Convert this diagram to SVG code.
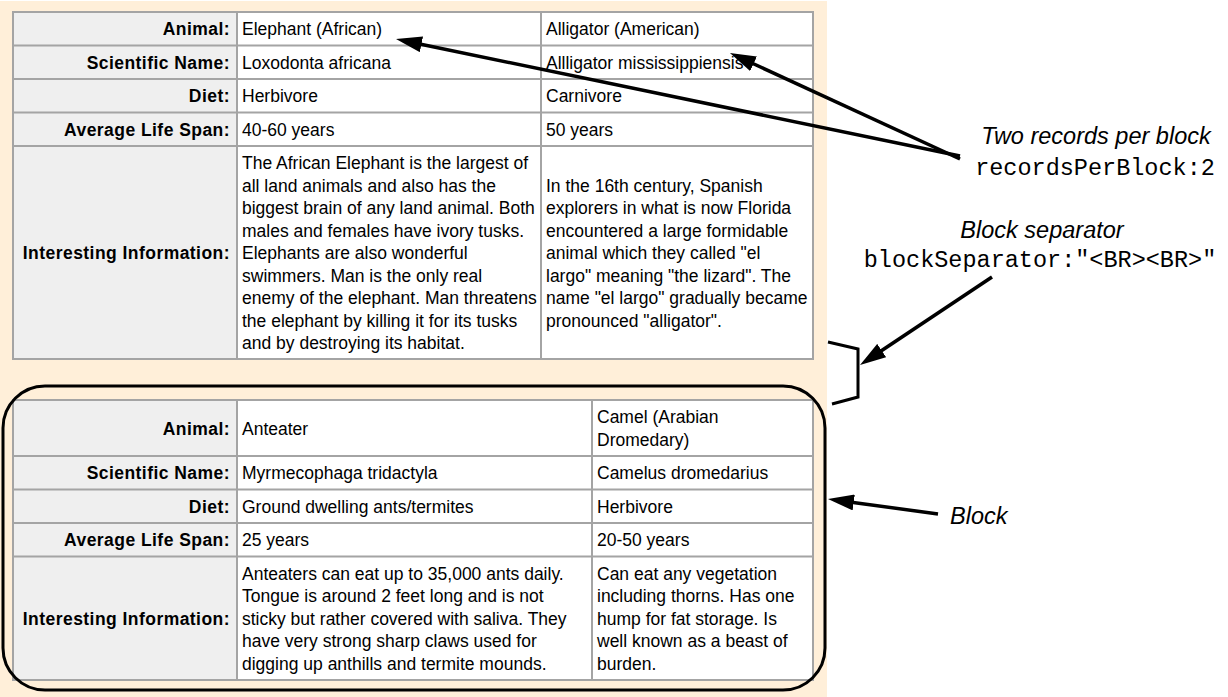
<svg xmlns="http://www.w3.org/2000/svg" width="1228" height="697" viewBox="0 0 1228 697">
  <style>
    .panel { fill: #FFEFD9; }
    .lbl-bg { fill: #EFEFEF; }
    .cell-bg { fill: #FFFFFF; }
    .grid { stroke: #A4A4A4; stroke-width: 2; fill: none; }
    .lbl { font-family: "Liberation Sans", Arial, sans-serif; font-size: 17.5px; font-weight: bold; text-anchor: end; letter-spacing: 0.45px; fill: #000; }
    .val { font-family: "Liberation Sans", Arial, sans-serif; font-size: 17.5px; fill: #000; }
    .note { font-family: "Liberation Sans", Arial, sans-serif; font-size: 23.5px; font-style: italic; fill: #000; }
    .code { font-family: "Liberation Mono", "Courier New", monospace; font-size: 23.5px; fill: #000; }
    .conn { stroke: #000; stroke-width: 3.5; fill: none; }
    .block { stroke: #000; stroke-width: 3; fill: none; }
  </style>
  <defs>
    <marker id="head" markerUnits="userSpaceOnUse" markerWidth="26" markerHeight="16" refX="8" refY="8" orient="auto">
      <path d="M0,0 L26,8 L0,16 Z" fill="#000"/>
    </marker>
  </defs>

  <rect width="1228" height="697" fill="#FFFFFF"/>
  <rect class="panel" x="0" y="1" width="827" height="696"/>

  <!-- first block: elephant / alligator -->
  <g id="block-1">
    <rect class="lbl-bg" x="13" y="12" width="224" height="347"/>
    <rect class="cell-bg" x="237" y="12" width="576" height="347"/>
    <g class="grid">
      <rect x="13" y="12" width="800" height="347"/>
      <line x1="237" y1="12" x2="237" y2="359"/>
      <line x1="541" y1="12" x2="541" y2="359"/>
      <line x1="13" y1="45.5" x2="813" y2="45.5"/>
      <line x1="13" y1="79" x2="813" y2="79"/>
      <line x1="13" y1="112.5" x2="813" y2="112.5"/>
      <line x1="13" y1="146" x2="813" y2="146"/>
    </g>
    <text class="lbl" x="230" y="35">Animal:</text>
    <text class="lbl" x="230" y="68.5">Scientific Name:</text>
    <text class="lbl" x="230" y="102">Diet:</text>
    <text class="lbl" x="230" y="135.5">Average Life Span:</text>
    <text class="lbl" x="230" y="259">Interesting Information:</text>

    <text class="val" x="242" y="35">Elephant (African)</text>
    <text class="val" x="242" y="68.5">Loxodonta africana</text>
    <text class="val" x="242" y="102">Herbivore</text>
    <text class="val" x="242" y="135.5">40-60 years</text>
    <text class="val" x="242" y="169">
      <tspan x="242" y="169">The African Elephant is the largest of</tspan>
      <tspan x="242" y="191.5">all land animals and also has the</tspan>
      <tspan x="242" y="214">biggest brain of any land animal. Both</tspan>
      <tspan x="242" y="236.5">males and females have ivory tusks.</tspan>
      <tspan x="242" y="259">Elephants are also wonderful</tspan>
      <tspan x="242" y="281.5">swimmers. Man is the only real</tspan>
      <tspan x="242" y="304">enemy of the elephant. Man threatens</tspan>
      <tspan x="242" y="326.5">the elephant by killing it for its tusks</tspan>
      <tspan x="242" y="349">and by destroying its habitat.</tspan>
    </text>

    <text class="val" x="546" y="35">Alligator (American)</text>
    <text class="val" x="546" y="68.5">Allligator mississippiensis</text>
    <text class="val" x="546" y="102">Carnivore</text>
    <text class="val" x="546" y="135.5">50 years</text>
    <text class="val" x="546" y="191.5">
      <tspan x="546" y="191.5">In the 16th century, Spanish</tspan>
      <tspan x="546" y="214">explorers in what is now Florida</tspan>
      <tspan x="546" y="236.5">encountered a large formidable</tspan>
      <tspan x="546" y="259">animal which they called "el</tspan>
      <tspan x="546" y="281.5">largo" meaning "the lizard". The</tspan>
      <tspan x="546" y="304">name "el largo" gradually became</tspan>
      <tspan x="546" y="326.5">pronounced "alligator".</tspan>
    </text>
  </g>

  <!-- second block: anteater / camel, outlined as one block -->
  <g id="block-2">
    <rect class="lbl-bg" x="13" y="400" width="224" height="280"/>
    <rect class="cell-bg" x="237" y="400" width="576" height="280"/>
    <g class="grid">
      <rect x="13" y="400" width="800" height="280"/>
      <line x1="237" y1="400" x2="237" y2="680"/>
      <line x1="592" y1="400" x2="592" y2="680"/>
      <line x1="13" y1="456" x2="813" y2="456"/>
      <line x1="13" y1="489.5" x2="813" y2="489.5"/>
      <line x1="13" y1="523" x2="813" y2="523"/>
      <line x1="13" y1="556.5" x2="813" y2="556.5"/>
    </g>
    <text class="lbl" x="230" y="434.5">Animal:</text>
    <text class="lbl" x="230" y="479">Scientific Name:</text>
    <text class="lbl" x="230" y="512.5">Diet:</text>
    <text class="lbl" x="230" y="546">Average Life Span:</text>
    <text class="lbl" x="230" y="624.5">Interesting Information:</text>

    <text class="val" x="242" y="434.5">Anteater</text>
    <text class="val" x="242" y="479">Myrmecophaga tridactyla</text>
    <text class="val" x="242" y="512.5">Ground dwelling ants/termites</text>
    <text class="val" x="242" y="546">25 years</text>
    <text class="val" x="242" y="579.5">
      <tspan x="242" y="579.5">Anteaters can eat up to 35,000 ants daily.</tspan>
      <tspan x="242" y="602">Tongue is around 2 feet long and is not</tspan>
      <tspan x="242" y="624.5">sticky but rather covered with saliva. They</tspan>
      <tspan x="242" y="647">have very strong sharp claws used for</tspan>
      <tspan x="242" y="669.5">digging up anthills and termite mounds.</tspan>
    </text>

    <text class="val" x="597" y="423">
      <tspan x="597" y="423">Camel (Arabian</tspan>
      <tspan x="597" y="445.5">Dromedary)</tspan>
    </text>
    <text class="val" x="597" y="479">Camelus dromedarius</text>
    <text class="val" x="597" y="512.5">Herbivore</text>
    <text class="val" x="597" y="546">20-50 years</text>
    <text class="val" x="597" y="579.5">
      <tspan x="597" y="579.5">Can eat any vegetation</tspan>
      <tspan x="597" y="602">including thorns. Has one</tspan>
      <tspan x="597" y="624.5">hump for fat storage. Is</tspan>
      <tspan x="597" y="647">well known as a beast of</tspan>
      <tspan x="597" y="669.5">burden.</tspan>
    </text>

    <rect class="block" x="3" y="386" width="822" height="304" rx="42" ry="42"/>
  </g>

  <!-- separator bracket between the two blocks -->
  <g id="separator-bracket">
    <path class="block" d="M828,342 L858,349 L858,397 L832,404"/>
  </g>

  <!-- annotation labels -->
  <g id="note-records">
    <text class="note" x="1096" y="144" text-anchor="middle">Two records per block</text>
    <text class="code" x="1095" y="175" text-anchor="middle">recordsPerBlock:2</text>
  </g>
  <g id="note-separator">
    <text class="note" x="1042" y="238" text-anchor="middle">Block separator</text>
    <text class="code" x="1040" y="267" text-anchor="middle">blockSeparator:"&lt;BR&gt;&lt;BR&gt;"</text>
  </g>
  <g id="note-block">
    <text class="note" x="950" y="524">Block</text>
  </g>

  <!-- connectors -->
  <g id="connectors" class="conn">
    <line x1="960" y1="156" x2="413.6" y2="42.7" marker-end="url(#head)"/>
    <line x1="960" y1="159" x2="746.3" y2="60.5" marker-end="url(#head)"/>
    <line x1="992" y1="277" x2="875" y2="355" marker-end="url(#head)"/>
    <line x1="938" y1="514" x2="845.8" y2="501.4" marker-end="url(#head)"/>
  </g>
</svg>
